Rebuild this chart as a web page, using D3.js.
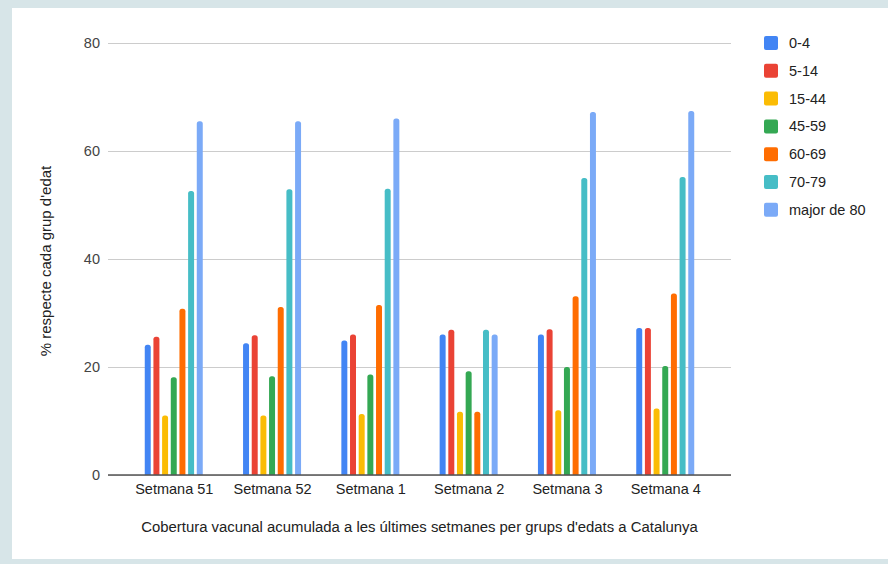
<!DOCTYPE html>
<html>
<head>
<meta charset="utf-8">
<script src="https://cdn.jsdelivr.net/npm/d3@7/dist/d3.min.js"></script>
<style>
  html, body { margin: 0; padding: 0; background: #fff; }
  svg { display: block; }
  text { font-family: Arial, "Liberation Sans", sans-serif; }
</style>
</head>
<body>
<svg id="chart" width="888" height="564"></svg>
<script>
// Weekly cumulative vaccine coverage (%) in Catalonia, by age group
const weeks = ["Setmana 51", "Setmana 52", "Setmana 1", "Setmana 2", "Setmana 3", "Setmana 4"];
const ageGroups = ["0-4", "5-14", "15-44", "45-59", "60-69", "70-79", "major de 80"];
const groupColors = ["#4285F4", "#EA4335", "#FBBC04", "#34A853", "#FF6D01", "#46BDC6", "#7BAAF7"];

const age0_4   = [24.1, 24.4, 24.9, 26.0, 26.0, 27.2];
const age5_14  = [25.6, 25.9, 26.0, 26.9, 27.0, 27.2];
const age15_44 = [11.0, 11.0, 11.3, 11.7, 12.0, 12.3];
const age45_59 = [18.1, 18.3, 18.6, 19.2, 20.0, 20.2];
const age60_69 = [30.8, 31.1, 31.5, 11.7, 33.1, 33.6];
const age70_79 = [52.6, 52.9, 53.0, 26.9, 55.0, 55.2];
const age80    = [65.5, 65.5, 66.0, 26.0, 67.2, 67.4];
const seriesValues = [age0_4, age5_14, age15_44, age45_59, age60_69, age70_79, age80];

const yTicks = [0, 20, 40, 60, 80];
const xTitle = "Cobertura vacunal acumulada a les últimes setmanes per grups d'edats a Catalunya";
const yTitle = "% respecte cada grup d'edat";

const svg = d3.select("#chart");
const W = 888, H = 564;

// page frame
svg.append("rect").attr("x", 0).attr("y", 0).attr("width", W).attr("height", H).attr("fill", "#d7e5e8");
svg.append("rect").attr("x", 12).attr("y", 8).attr("width", W - 12).attr("height", H - 8 - 5).attr("fill", "#ffffff");

const plot = { left: 108, right: 731, top: 43, bottom: 475 };

const x = d3.scalePoint().domain(weeks).range([plot.left, plot.right]).padding(0.669);
const inner = d3.scaleBand().domain(ageGroups).range([-29, 29]).paddingInner(0.31);
const y = d3.scaleLinear().domain([0, 80]).range([plot.bottom, plot.top]);

// gridlines
svg.append("g")
  .attr("transform", `translate(${plot.left},0)`)
  .call(d3.axisLeft(y).tickValues(yTicks).tickSize(-(plot.right - plot.left)).tickFormat(""))
  .call(g => g.select(".domain").remove())
  .call(g => g.selectAll(".tick line").attr("stroke", "#cccccc").attr("stroke-width", 1));

// y tick labels
svg.append("g")
  .attr("transform", `translate(${plot.left},0)`)
  .call(d3.axisLeft(y).tickValues(yTicks).tickSize(0).tickPadding(8))
  .call(g => g.select(".domain").remove())
  .call(g => g.selectAll(".tick text")
    .attr("fill", "#444").style("font-size", "14.5px").style("font-family", "Arial, 'Liberation Sans', sans-serif"));

// bars with rounded tops
const r = 2.5;
function barPath(x0, w, yTop, yBase) {
  const rr = Math.min(r, w / 2, (yBase - yTop) / 2);
  return `M${x0},${yBase}V${yTop + rr}Q${x0},${yTop} ${x0 + rr},${yTop}H${x0 + w - rr}Q${x0 + w},${yTop} ${x0 + w},${yTop + rr}V${yBase}Z`;
}

const rows = [];
weeks.forEach((wk, i) => {
  ageGroups.forEach((ag, j) => rows.push({ week: wk, group: ag, value: seriesValues[j][i], color: groupColors[j] }));
});

svg.append("g").selectAll("path")
  .data(rows)
  .join("path")
  .attr("fill", d => d.color)
  .attr("d", d => barPath(x(d.week) + inner(d.group), inner.bandwidth(), y(d.value), y(0)));

// baseline
svg.append("line")
  .attr("x1", plot.left).attr("x2", plot.right)
  .attr("y1", y(0)).attr("y2", y(0))
  .attr("stroke", "#555").attr("stroke-width", 1.3);

// x tick labels
svg.append("g")
  .attr("transform", `translate(0,${plot.bottom})`)
  .call(d3.axisBottom(x).tickSize(0).tickPadding(9))
  .call(g => g.select(".domain").remove())
  .call(g => g.selectAll(".tick text")
    .attr("fill", "#222").style("font-size", "14.5px").style("font-family", "Arial, 'Liberation Sans', sans-serif"));

// axis titles
svg.append("text")
  .attr("x", (plot.left + plot.right) / 2).attr("y", 532)
  .attr("text-anchor", "middle").attr("fill", "#222")
  .style("font-size", "14.9px")
  .text(xTitle);

svg.append("text")
  .attr("transform", `translate(50.5,${(plot.top + plot.bottom) / 2 + 2}) rotate(-90)`)
  .attr("text-anchor", "middle").attr("fill", "#222")
  .style("font-size", "15px")
  .text(yTitle);

// legend
const legend = svg.append("g").attr("transform", "translate(764,43)");
const item = legend.selectAll("g").data(ageGroups).join("g")
  .attr("transform", (d, i) => `translate(0,${i * 27.8})`);
item.append("rect")
  .attr("x", 0).attr("y", -7).attr("width", 14).attr("height", 14).attr("rx", 2)
  .attr("fill", (d, i) => groupColors[i]);
item.append("text")
  .attr("x", 25).attr("y", 5)
  .attr("fill", "#222").style("font-size", "14.5px")
  .text(d => d);
</script>
</body>
</html>
